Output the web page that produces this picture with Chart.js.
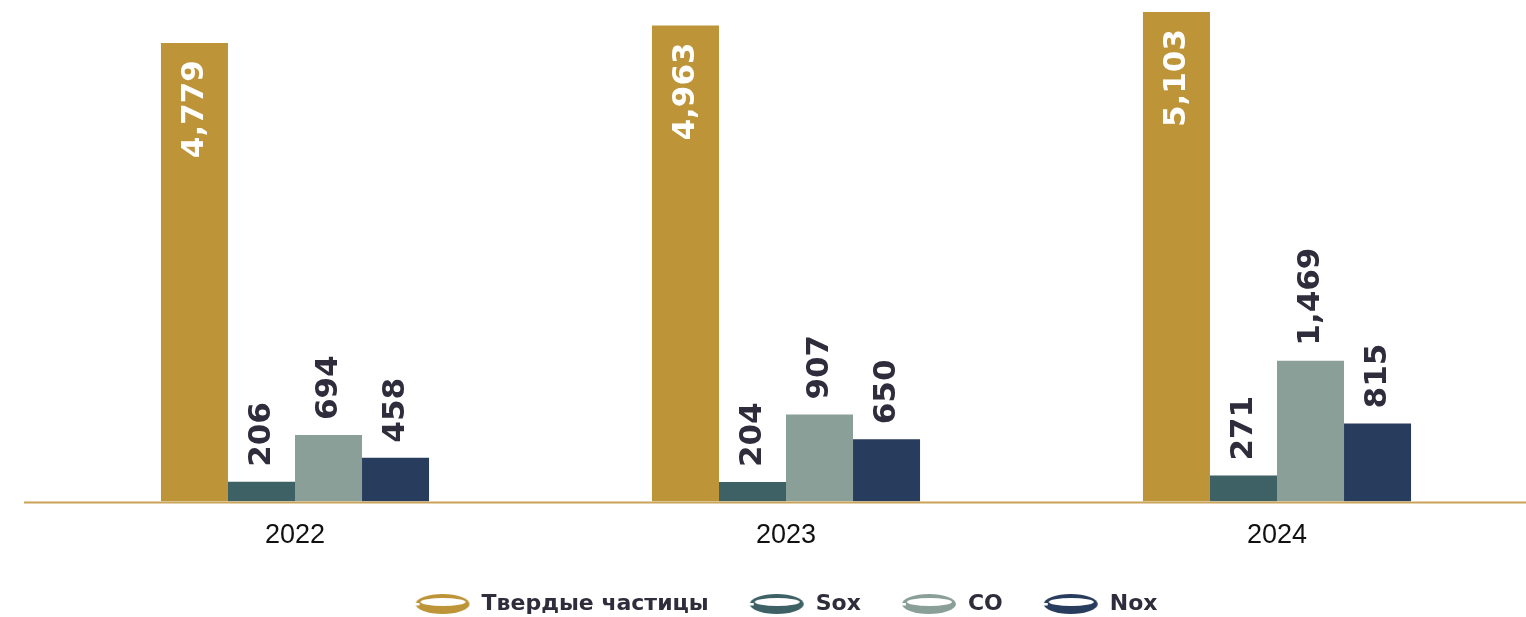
<!DOCTYPE html>
<html>
<head>
<meta charset="utf-8">
<script src="https://cdn.jsdelivr.net/npm/chart.js@4.4.0/dist/chart.umd.min.js"></script>
<style>
  html, body { margin: 0; padding: 0; background: #fff; }
  #wrap { width: 1526px; height: 617px; position: relative; }
</style>
</head>
<body>
<div id="wrap"><canvas id="grafica"></canvas></div>
<script>
// Datos
const anios = ["2022", "2023", "2024"];
const serieNombres = ["Твердые частицы", "Sox", "CO", "Nox"];
const tverdye = [4779, 4963, 5103];
const sox = [206, 204, 271];
const co = [694, 907, 1469];
const nox = [458, 650, 815];

const colores = ["#BD9438", "#3E6166", "#8A9F97", "#283C5D"];
const textoOscuro = "#2F2C3C";

// Icono de anillo para la leyenda
function anillo(color) {
  const c = document.createElement("canvas");
  c.width = 56; c.height = 22;
  const g = c.getContext("2d");
  g.fillStyle = color;
  g.beginPath();
  g.ellipse(28, 11, 27, 10, 0, 0, Math.PI * 2);
  g.fill();
  g.globalCompositeOperation = "destination-out";
  g.beginPath();
  g.ellipse(28.5, 9, 22.5, 4, 0, 0, Math.PI * 2);
  g.fill();
  g.fillRect(0, 10, 5, 2.5);
  return c;
}

// Etiquetas verticales sobre / dentro de las barras
const etiquetas = {
  id: "etiquetas",
  afterDatasetsDraw(chart) {
    const ctx = chart.ctx;
    ctx.save();
    ctx.font = "bold 31px 'DejaVu Sans'";
    ctx.textBaseline = "middle";
    chart.data.datasets.forEach((ds, i) => {
      chart.getDatasetMeta(i).data.forEach((bar, j) => {
        const txt = ds.data[j].toLocaleString("en-US");
        ctx.save();
        if (i === 0) {
          ctx.translate(bar.x, bar.y + 17);
          ctx.rotate(-Math.PI / 2);
          ctx.textAlign = "right";
          ctx.fillStyle = "#fff";
        } else {
          ctx.translate(bar.x, bar.y - 15);
          ctx.rotate(-Math.PI / 2);
          ctx.textAlign = "left";
          ctx.fillStyle = textoOscuro;
        }
        ctx.fillText(txt, 0, 0);
        ctx.restore();
      });
    });
    ctx.restore();
  }
};

// Linea base dorada
const lineaBase = {
  id: "lineaBase",
  afterDatasetsDraw(chart) {
    const ctx = chart.ctx;
    const y = chart.chartArea.bottom + 1;
    ctx.save();
    ctx.strokeStyle = "#C9A458";
    ctx.lineWidth = 2;
    ctx.beginPath();
    ctx.moveTo(24, y);
    ctx.lineTo(chart.width, y);
    ctx.stroke();
    ctx.restore();
  }
};

// Ajuste de altura de la leyenda (el padding grande la hace muy alta)
const ajusteLeyenda = {
  id: "ajusteLeyenda",
  beforeLayout(chart) {
    const leyenda = chart.legend;
    if (leyenda && !leyenda._ajustada) {
      leyenda._ajustada = true;
      const fitOriginal = leyenda.fit;
      leyenda.fit = function () {
        fitOriginal.call(this);
        this.height -= 8;
      };
    }
  }
};

const series = [tverdye, sox, co, nox];

new Chart(document.getElementById("grafica"), {
  type: "bar",
  data: {
    labels: anios,
    datasets: series.map((d, i) => ({
      label: serieNombres[i],
      data: d,
      backgroundColor: colores[i],
      pointStyle: anillo(colores[i]),
      barPercentage: 1,
      categoryPercentage: 0.546
    }))
  },
  options: {
    responsive: true,
    maintainAspectRatio: false,
    animation: false,
    layout: { padding: { left: 49.5, right: 3.5, top: 12, bottom: 0 } },
    plugins: {
      tooltip: { enabled: false },
      legend: {
        position: "bottom",
        labels: {
          usePointStyle: true,
          pointStyleWidth: 56,
          boxHeight: 22,
          padding: 40,
          color: textoOscuro,
          font: { family: "'DejaVu Sans'", size: 22, weight: "bold" }
        }
      }
    },
    scales: {
      x: {
        grid: { display: false, drawTicks: false },
        border: { display: false },
        afterFit(scale) { scale.height -= 17; },
        ticks: {
          color: "#111",
          padding: 18,
          font: { family: "'Liberation Sans'", size: 27 }
        }
      },
      y: {
        display: false,
        min: 0,
        max: 5103
      }
    }
  },
  plugins: [etiquetas, lineaBase, ajusteLeyenda]
});
</script>
</body>
</html>
